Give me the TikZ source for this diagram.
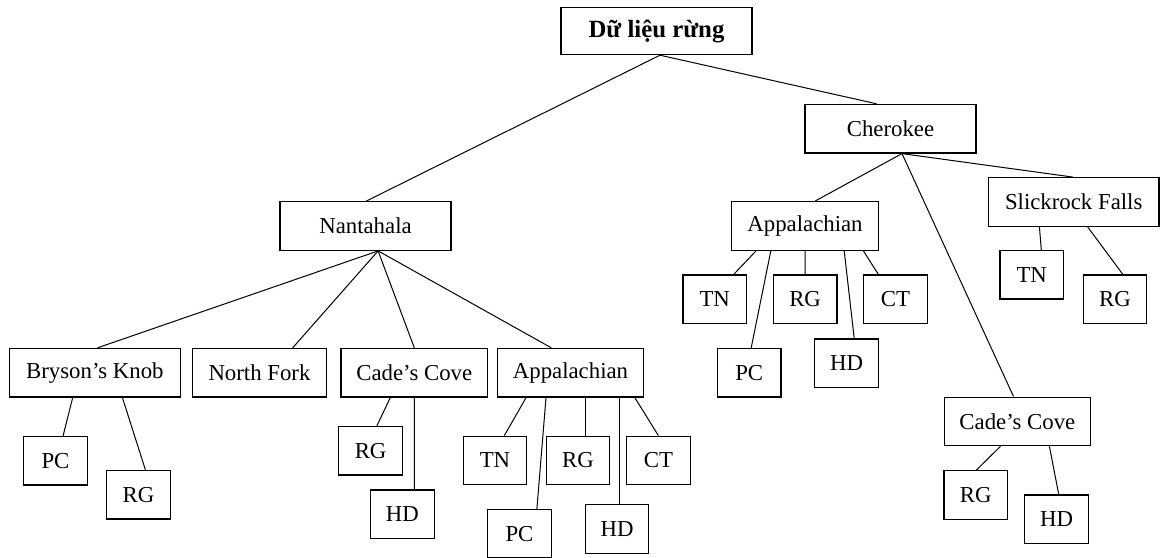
\documentclass[tikz,border=0pt]{standalone}
\usepackage{fontspec}
\setmainfont{Liberation Serif}
\usetikzlibrary{calc}
\definecolor{frInk}{HTML}{000000}
\tikzset{
  fr box/.style={draw=frInk, line width=0.6pt, inner sep=0pt, minimum height=24.3pt, font=\fontsize{11.4}{13}\selectfont, text=frInk},
  fr leaf/.style={fr box, minimum width=31.8pt},
  fr root/.style={fr box, minimum height=23.6pt, font=\fontsize{12.4}{14}\selectfont\bfseries},
  fr link/.style={draw=frInk, line width=0.5pt},
}

\begin{document}
\begin{tikzpicture}[x=0.5pt, y=-0.5pt]
  \useasboundingbox (0,0) rectangle (1161,557);
  % Root and the two forests
  \node[fr root, minimum width=95.5pt] (root) at (656.5,31) {Dữ liệu rừng};
  \node[fr box, minimum width=85.5pt] (nan) at (365.5,226) {Nantahala};
  \node[fr box, minimum width=85.5pt] (cher) at (890.5,128.7) {Cherokee};
  % Sites under Nantahala
  \node[fr box, minimum width=85.3pt] (bry) at (94.9,372.7) {Bryson’s Knob};
  \node[fr box, minimum width=67pt] (nfk) at (259.5,372.7) {North Fork};
  \node[fr box, minimum width=73.3pt] (cadeL) at (414.3,372.7) {Cade’s Cove};
  \node[fr box, minimum width=73.3pt] (appL) at (570.5,372.7) {Appalachian};
  % Sites under Cherokee
  \node[fr box, minimum width=73.3pt] (appR) at (805,226) {Appalachian};
  \node[fr box, minimum width=85.3pt] (slick) at (1073.7,202) {Slickrock Falls};
  \node[fr box, minimum width=73.2pt] (cadeR) at (1017.4,421.4) {Cade’s Cove};
  % Species boxes
  \foreach \n/\x/\y/\t in {bryPC/55.5/460.7/PC, bryRG/138.5/494.7/RG,
      cadeLRG/370.6/450.7/RG, cadeLHD/402.4/514.2/HD,
      appLTN/495/460.5/TN, appLPC/519.5/533.7/PC, appLRG/578/460.5/RG,
      appLHD/617/528.8/HD, appLCT/658.4/460.5/CT,
      appRTN/714.7/299.2/TN, appRPC/749.2/372.7/PC, appRRG/805.1/299.2/RG,
      appRHD/846.6/363.2/HD, appRCT/895.5/299.2/CT,
      slickTN/1031.7/274.7/TN, slickRG/1115/299.2/RG,
      cadeRRG/975.7/494.9/RG, cadeRHD/1056.5/519.2/HD}
    \node[fr leaf] (\n) at (\x,\y) {\t};
  % Connectors: parent, shift at its foot, child, shift at its head
  \foreach \p/\ps/\c/\cs in {root/3.5/nan/0.7, root/3.5/cher/-14,
      nan/12.6/bry/2.7, nan/12.6/nfk/33.2, nan/12.6/cadeL/0, nan/12.6/appL/-19.2,
      cher/11.5/appR/10, cher/11.5/cadeR/-3.9, cher/11.5/slick/-0.7,
      bry/-22.2/bryPC/7.6, bry/27.5/bryRG/6.9,
      cadeL/-24/cadeLRG/6.3, cadeL/0/cadeLHD/12,
      appL/-44.4/appLTN/9.3, appL/-24.5/appLPC/17.4, appL/15/appLRG/7.5,
      appL/49.1/appLHD/2.6, appL/64.3/appLCT/0,
      appR/-49/appRTN/19.1, appR/-34.2/appRPC/2, appR/0/appRRG/0,
      appR/39.2/appRHD/7.6, appR/58.4/appRCT/-17.2,
      slick/-34.3/slickTN/9.6, slick/13.9/slickRG/7.8,
      cadeR/-16.9/cadeRRG/0.7, cadeR/32/cadeRHD/2.2}
    \draw[fr link] ($(\p.south)+(\ps,0)$) -- ($(\c.north)+(\cs,0)$);
\end{tikzpicture}
\end{document}
